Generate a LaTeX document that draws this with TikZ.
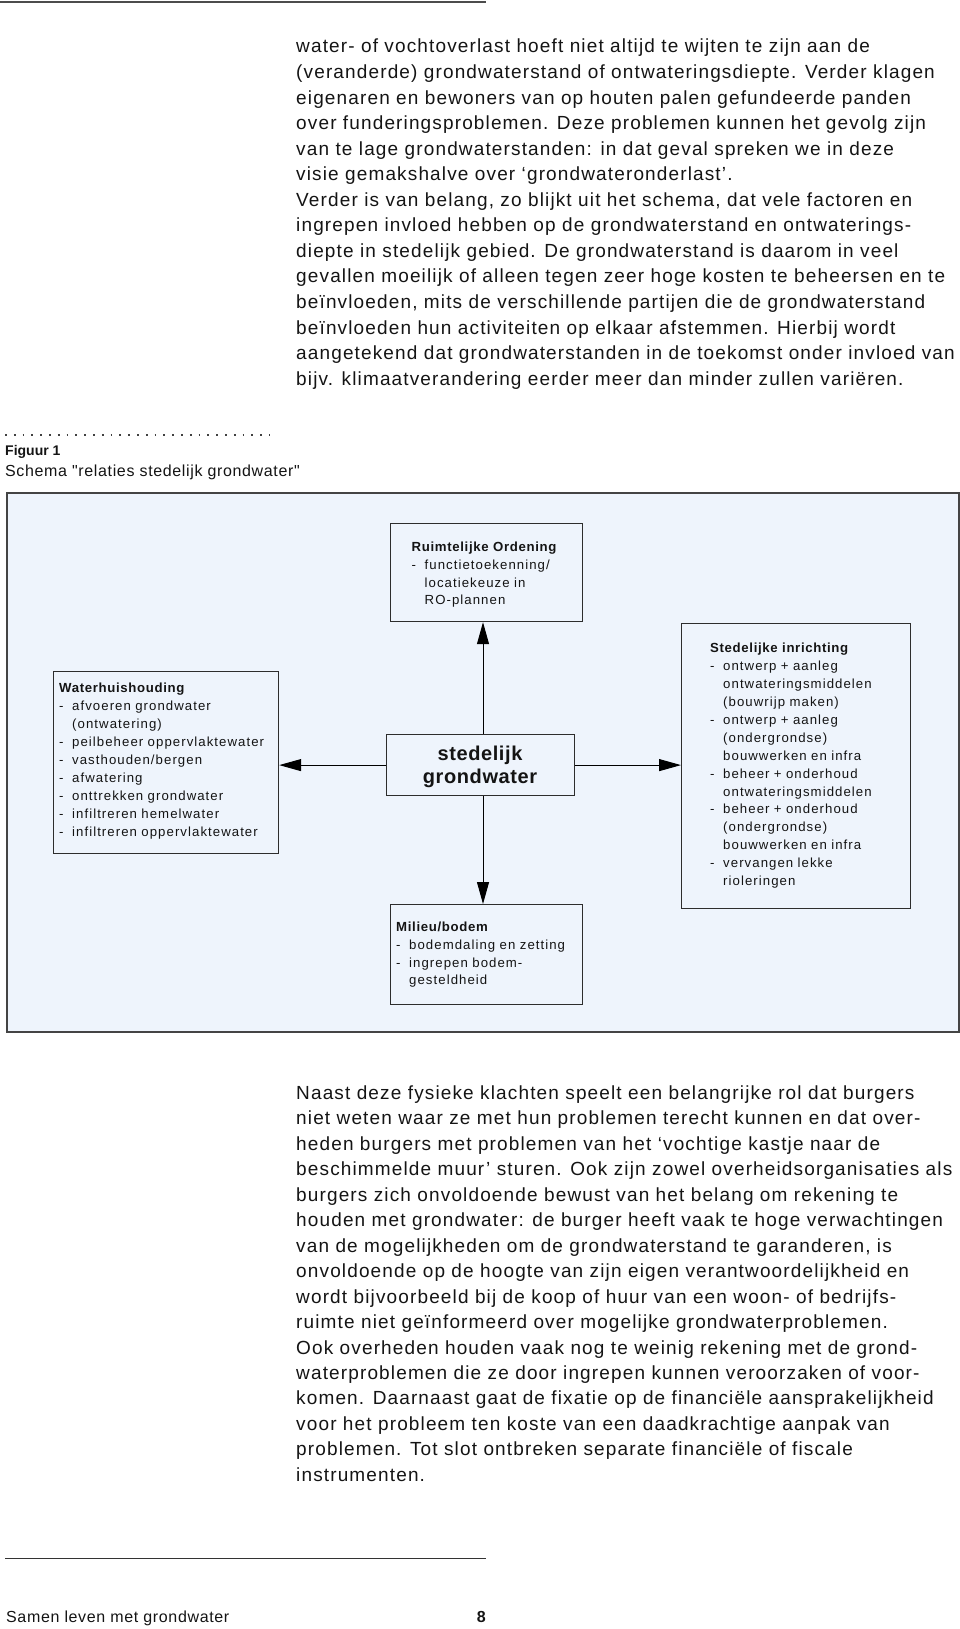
\documentclass[tikz,border=0pt]{standalone}
\usepackage{fontspec}
\setmainfont{Liberation Sans}
\newfontfamily\bodyfont[LetterSpace=6]{Liberation Sans}
\newfontfamily\boxfont[LetterSpace=8]{Liberation Sans}
\newfontfamily\capfont[LetterSpace=4,Ligatures=TeXOff]{Liberation Sans}
\newfontfamily\ctrfont[LetterSpace=3]{Liberation Sans}
\usetikzlibrary{arrows.meta}
\definecolor{panel}{RGB}{238,244,252}
\definecolor{frame}{RGB}{68,68,68}
\definecolor{boxline}{RGB}{45,45,45}
\definecolor{ink}{RGB}{20,20,20}
\newcommand\btitle[1]{{\bfseries\addfontfeature{LetterSpace=5}#1}}
\newcommand\bitem[1]{\makebox[13pt][l]{-}#1}
\newcommand\bcont[1]{\hspace*{13pt}#1}
\tikzset{
  panelbox/.style={draw=frame, line width=2, fill=panel, inner sep=0, anchor=north west},
  box/.style={draw=boxline, line width=1.2, inner sep=0, anchor=north west},
  bodyline/.style={inner sep=0, anchor=base west, text=ink, font=\bodyfont\fontsize{19}{25.5}\selectfont},
  boxtext/.style={inner sep=0, anchor=base west, align=left, text width=240, text=ink, font=\boxfont\fontsize{13.2}{17.9}\selectfont},
  arr/.style={draw=black, line width=1, -{Triangle[length=22pt,width=12pt]}},
}
\begin{document}
\begin{tikzpicture}[x=1pt,y=-1pt]
\useasboundingbox (0,0) rectangle (960,1629);
% top rule
\draw[line width=2.2, color=black!70] (0,2) -- (486,2);
% upper text
\foreach \t [count=\i] in {
{water- of vochtoverlast hoeft niet altijd te wijten te zijn aan de},
{(veranderde) grondwaterstand of ontwateringsdiepte. Verder klagen},
{eigenaren en bewoners van op houten palen gefundeerde panden},
{over funderingsproblemen. Deze problemen kunnen het gevolg zijn},
{van te lage grondwaterstanden: in dat geval spreken we in deze},
{visie gemakshalve over ‘grondwateronderlast’.},
{Verder is van belang, zo blijkt uit het schema, dat vele factoren en},
{ingrepen invloed hebben op de grondwaterstand en ontwaterings-},
{diepte in stedelijk gebied. De grondwaterstand is daarom in veel},
{gevallen moeilijk of alleen tegen zeer hoge kosten te beheersen en te},
{beïnvloeden, mits de verschillende partijen die de grondwaterstand},
{beïnvloeden hun activiteiten op elkaar afstemmen. Hierbij wordt},
{aangetekend dat grondwaterstanden in de toekomst onder invloed van},
{bijv. klimaatverandering eerder meer dan minder zullen variëren.}}
  \node[bodyline] (up\i) at (296,{53+25.55*(\i-1)}) {\t};
% caption
\draw[line width=1.8, dash pattern=on 1.8 off 7, color=black!75] (5,435) -- (270,435);
\node[inner sep=0, anchor=base west, text=ink, font=\fontsize{14}{16}\selectfont\bfseries] (fig) at (5,455.4) {Figuur 1};
\node[inner sep=0, anchor=base west, text=ink, font=\capfont\fontsize{16}{19}\selectfont] (sch) at (5,476) {Schema "relaties stedelijk grondwater"};
% panel
\node[panelbox, minimum width=952, minimum height=539] (pan) at (6,491.5) {};
% boxes
\node[box, minimum width=192, minimum height=98] (ro) at (390,523) {};
\node[box, minimum width=225, minimum height=182] (wh) at (53,671) {};
\node[box, minimum width=229, minimum height=285] (si) at (681,623) {};
\node[box, minimum width=192, minimum height=100] (mb) at (390,904) {};
\node[box, minimum width=188, minimum height=61] (c) at (386,734) {};
% box texts
\node[boxtext] (rot) at (411.5,551.2) {\btitle{Ruimtelijke Ordening}\\
\bitem{functietoekenning/}\\
\bcont{locatiekeuze in}\\
\bcont{RO-plannen}};
\node[boxtext] (wht) at (59,692.8) {\btitle{Waterhuishouding}\\
\bitem{afvoeren grondwater}\\
\bcont{(ontwatering)}\\
\bitem{peilbeheer oppervlaktewater}\\
\bitem{vasthouden/bergen}\\
\bitem{afwatering}\\
\bitem{onttrekken grondwater}\\
\bitem{infiltreren hemelwater}\\
\bitem{infiltreren oppervlaktewater}};
\node[boxtext] (sit) at (710,652.8) {\btitle{Stedelijke inrichting}\\
\bitem{ontwerp + aanleg}\\
\bcont{ontwateringsmiddelen}\\
\bcont{(bouwrijp maken)}\\
\bitem{ontwerp + aanleg}\\
\bcont{(ondergrondse)}\\
\bcont{bouwwerken en infra}\\
\bitem{beheer + onderhoud}\\
\bcont{ontwateringsmiddelen}\\
\bitem{beheer + onderhoud}\\
\bcont{(ondergrondse)}\\
\bcont{bouwwerken en infra}\\
\bitem{vervangen lekke}\\
\bcont{rioleringen}};
\node[boxtext] (mbt) at (396,931.2) {\btitle{Milieu/bodem}\\
\bitem{bodemdaling en zetting}\\
\bitem{ingrepen bodem-}\\
\bcont{gesteldheid}};
\node[inner sep=0, anchor=base, align=center, text width=180, text=ink, font=\ctrfont\bfseries\fontsize{20}{23.3}\selectfont] (ct) at (480,760) {stedelijk\\grondwater};
% arrows
\coordinate (vx) at (483,0);
\draw[arr] (c.north -| vx) -- (ro.south -| vx);
\draw[arr] (c.south -| vx) -- (mb.north -| vx);
\draw[arr] (c.west) -- (wh.east |- c.west);
\draw[arr] (c.east) -- (si.west |- c.east);
% lower text
\foreach \t [count=\i] in {
{Naast deze fysieke klachten speelt een belangrijke rol dat burgers},
{niet weten waar ze met hun problemen terecht kunnen en dat over-},
{heden burgers met problemen van het ‘vochtige kastje naar de},
{beschimmelde muur’ sturen. Ook zijn zowel overheidsorganisaties als},
{burgers zich onvoldoende bewust van het belang om rekening te},
{houden met grondwater: de burger heeft vaak te hoge verwachtingen},
{van de mogelijkheden om de grondwaterstand te garanderen, is},
{onvoldoende op de hoogte van zijn eigen verantwoordelijkheid en},
{wordt bijvoorbeeld bij de koop of huur van een woon- of bedrijfs-},
{ruimte niet geïnformeerd over mogelijke grondwaterproblemen.},
{Ook overheden houden vaak nog te weinig rekening met de grond-},
{waterproblemen die ze door ingrepen kunnen veroorzaken of voor-},
{komen. Daarnaast gaat de fixatie op de financiële aansprakelijkheid},
{voor het probleem ten koste van een daadkrachtige aanpak van},
{problemen. Tot slot ontbreken separate financiële of fiscale},
{instrumenten.}}
  \node[bodyline] (lo\i) at (296,{1099.5+25.45*(\i-1)}) {\t};
% footer
\draw[line width=1.1, color=black!80] (5,1558.3) -- (486,1558.3);
\node[inner sep=0, anchor=base west, text=ink, font=\capfont\fontsize{16}{19}\selectfont] (ft) at (6,1622) {Samen leven met grondwater};
\node[inner sep=0, anchor=base east, text=ink, font=\fontsize{16}{19}\selectfont\bfseries] (pg) at (486,1622) {8};
\end{tikzpicture}
\end{document}
